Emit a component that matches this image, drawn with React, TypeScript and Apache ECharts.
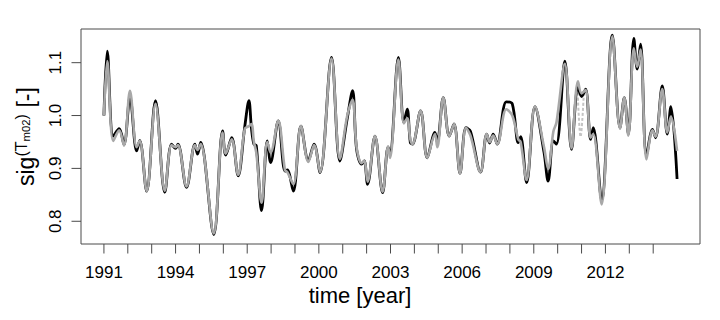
import React, { useEffect, useRef } from 'react';
import * as echarts from 'echarts';

// time axis (decimal years) shared by both curves
const years = [
  1991.00, 1991.14, 1991.39, 1991.64, 1991.84, 1992.09, 1992.37, 1992.50, 1992.79, 1993.16,
  1993.55, 1993.83, 1994.00, 1994.10, 1994.46, 1994.81, 1994.92, 1995.05, 1995.60, 1995.97,
  1996.10, 1996.35, 1996.62, 1996.90, 1997.07, 1997.18, 1997.28, 1997.38, 1997.60, 1997.84,
  1997.98, 1998.30, 1998.58, 1998.68, 1998.93, 1999.25, 1999.56, 1999.80, 2000.05, 2000.53,
  2000.88, 2001.19, 2001.41, 2001.58, 2001.79, 2001.90, 2002.04, 2002.35, 2002.67, 2002.90,
  2002.98, 2003.33, 2003.56, 2003.70, 2003.83, 2003.92, 2004.26, 2004.54, 2004.86, 2004.96,
  2005.21, 2005.46, 2005.66, 2005.91, 2006.16, 2006.35, 2006.77, 2007.03, 2007.15, 2007.30,
  2007.47, 2007.85, 2008.10, 2008.35, 2008.45, 2008.70, 2009.05, 2009.43, 2009.60, 2009.82,
  2009.95, 2010.30, 2010.58, 2010.85, 2011.00, 2011.17, 2011.38, 2011.49, 2011.84, 2012.29,
  2012.61, 2012.79, 2012.96, 2013.19, 2013.33, 2013.47, 2013.72, 2013.97, 2014.10, 2014.38,
  2014.59, 2014.74, 2015.00,
];

// black curve
const blackValues = [
  1.000, 1.122, 0.961, 0.975, 0.945, 1.035, 0.933, 0.953, 0.857, 1.028,
  0.855, 0.946, 0.938, 0.946, 0.864, 0.946, 0.927, 0.949, 0.775, 0.971,
  0.925, 0.958, 0.886, 0.980, 1.028, 0.975, 0.946, 0.943, 0.820, 0.952,
  0.911, 0.990, 0.895, 0.897, 0.857, 0.980, 0.915, 0.946, 0.892, 1.110,
  0.914, 0.995, 1.047, 0.936, 0.908, 0.914, 0.870, 0.961, 0.854, 0.940,
  0.930, 1.110, 0.987, 1.012, 0.949, 0.946, 1.009, 0.920, 0.968, 0.950,
  1.034, 0.961, 0.984, 0.891, 0.977, 0.970, 0.893, 0.965, 0.948, 0.965,
  0.946, 1.026, 1.022, 0.949, 0.960, 0.873, 1.017, 0.930, 0.876, 0.952,
  0.946, 1.103, 0.936, 1.053, 1.036, 1.050, 0.955, 0.977, 0.840, 1.152,
  0.977, 1.034, 0.965, 1.146, 1.088, 1.135, 0.924, 0.974, 0.958, 1.056,
  0.965, 1.017, 0.880,
];

// grey curve
const greyValues = [
  1.000, 1.103, 0.952, 0.972, 0.943, 1.047, 0.940, 0.952, 0.857, 1.022,
  0.858, 0.944, 0.940, 0.944, 0.866, 0.944, 0.935, 0.946, 0.777, 0.968,
  0.928, 0.955, 0.888, 0.975, 0.980, 0.984, 0.950, 0.930, 0.835, 0.950,
  0.930, 0.990, 0.897, 0.893, 0.870, 0.980, 0.912, 0.944, 0.893, 1.108,
  0.918, 1.000, 1.030, 0.940, 0.910, 0.914, 0.875, 0.961, 0.856, 0.942,
  0.920, 1.106, 0.985, 0.995, 0.955, 0.946, 1.009, 0.920, 0.965, 0.940,
  1.034, 0.961, 0.984, 0.891, 0.977, 0.962, 0.893, 0.965, 0.950, 0.962,
  0.946, 1.012, 1.000, 0.955, 0.950, 0.878, 1.017, 0.940, 0.899, 0.970,
  0.987, 1.098, 0.938, 1.065, 1.042, 1.048, 0.958, 0.965, 0.832, 1.150,
  0.975, 1.034, 0.962, 1.127, 1.092, 1.125, 0.917, 0.972, 0.960, 1.050,
  0.968, 0.998, 0.933,
];

// light dashed curve (visible only around the 2011 dip)
const dashYears = [2010.82, 2010.96, 2011.10];
const dashValues = [1.062, 0.960, 1.045];

const xTickYears = [
  1991, 1992, 1993, 1994, 1995, 1996, 1997, 1998, 1999, 2000, 2001, 2002,
  2003, 2004, 2005, 2006, 2007, 2008, 2009, 2010, 2011, 2012, 2013, 2014,
];
const xLabelYears = [1991, 1994, 1997, 2000, 2003, 2006, 2009, 2012];
const yTickValues = [0.8, 0.9, 1.0, 1.1];

const X_MIN = 1990.04;
const X_MAX = 2015.96;
const Y_MIN = 0.757;
const Y_MAX = 1.1637;

const FONT = '"Liberation Sans", Arial, Helvetica, sans-serif';
const AXIS_COLOR = '#4a4a4a';

export default function App() {
  const ref = useRef<HTMLDivElement>(null);

  useEffect(() => {
    if (!ref.current) return;
    const chart = echarts.init(ref.current, null, { renderer: 'svg' });

    const option: any = {
      animation: false,
      backgroundColor: '#ffffff',
      grid: {
        left: 81,
        right: 20,
        top: 29,
        bottom: 76,
        show: true,
        borderColor: AXIS_COLOR,
        borderWidth: 1,
        backgroundColor: 'transparent',
      },
      xAxis: {
        type: 'value',
        min: X_MIN,
        max: X_MAX,
        axisLine: { show: false },
        axisTick: { show: false },
        axisLabel: { show: false },
        splitLine: { show: false },
      },
      yAxis: {
        type: 'value',
        min: Y_MIN,
        max: Y_MAX,
        axisLine: { show: false },
        axisTick: { show: false },
        axisLabel: { show: false },
        splitLine: { show: false },
      },
      series: [
        {
          type: 'line',
          data: dashYears.map((y, i) => [y, dashValues[i]]),
          symbol: 'none',
          smooth: 0.35,
          lineStyle: { color: '#c4c4c4', width: 2, type: [3, 2] },
          silent: true,
          z: 2,
        },
        {
          type: 'line',
          data: years.map((y, i) => [y, blackValues[i]]),
          symbol: 'none',
          smooth: 0.35,
          lineStyle: { color: '#000000', width: 2.8 },
          silent: true,
          z: 3,
        },
        {
          type: 'line',
          data: years.map((y, i) => [y, greyValues[i]]),
          symbol: 'none',
          smooth: 0.35,
          lineStyle: { color: '#a8a8a8', width: 2.6 },
          silent: true,
          z: 4,
        },
        {
          type: 'custom',
          silent: true,
          clip: false,
          data: xTickYears.map((y) => [y, Y_MIN]),
          renderItem: (params: any, api: any) => {
            const p = api.coord([api.value(0), Y_MIN]);
            return {
              type: 'line',
              shape: { x1: p[0], y1: p[1], x2: p[0], y2: p[1] + 9.5 },
              style: { stroke: AXIS_COLOR, lineWidth: 1 },
            };
          },
        },
        {
          type: 'custom',
          silent: true,
          clip: false,
          data: xLabelYears.map((y) => [y, Y_MIN]),
          renderItem: (params: any, api: any) => {
            const p = api.coord([api.value(0), Y_MIN]);
            return {
              type: 'text',
              x: p[0],
              y: p[1] + 28.5,
              style: {
                text: String(api.value(0)),
                fill: '#000',
                fontSize: 17,
                fontFamily: FONT,
                align: 'center',
                verticalAlign: 'middle',
              },
            };
          },
        },
        {
          type: 'custom',
          silent: true,
          clip: false,
          data: yTickValues.map((v) => [X_MIN, v]),
          renderItem: (params: any, api: any) => {
            const v = api.value(1);
            const p = api.coord([X_MIN, v]);
            return {
              type: 'group',
              children: [
                {
                  type: 'line',
                  shape: { x1: p[0] - 9.5, y1: p[1], x2: p[0], y2: p[1] },
                  style: { stroke: AXIS_COLOR, lineWidth: 1 },
                },
                {
                  type: 'text',
                  x: p[0] - 26,
                  y: p[1],
                  rotation: Math.PI / 2,
                  style: {
                    text: v.toFixed(1),
                    fill: '#000',
                    fontSize: 17,
                    fontFamily: FONT,
                    align: 'center',
                    verticalAlign: 'middle',
                  },
                },
              ],
            };
          },
        },
      ],
      graphic: [
        {
          type: 'text',
          left: 'center',
          x: 390.5,
          y: 295.5,
          style: {
            text: 'time [year]',
            fill: '#000',
            fontSize: 22,
            fontFamily: FONT,
            align: 'center',
            verticalAlign: 'middle',
          },
        },
        {
          type: 'text', x: 25.6, y: 186, rotation: Math.PI / 2,
          style: { text: 'sig', fill: '#000', fontSize: 23, fontFamily: FONT, align: 'left', verticalAlign: 'middle' },
        },
        {
          type: 'text', x: 21.3, y: 156.6, rotation: Math.PI / 2,
          style: { text: '(T', fill: '#000', fontSize: 16, fontFamily: FONT, align: 'left', verticalAlign: 'middle' },
        },
        {
          type: 'text', x: 25.6, y: 141.5, rotation: Math.PI / 2,
          style: { text: 'm02', fill: '#000', fontSize: 11.3, fontFamily: FONT, align: 'left', verticalAlign: 'middle' },
        },
        {
          type: 'text', x: 21.3, y: 119.4, rotation: Math.PI / 2,
          style: { text: ')', fill: '#000', fontSize: 16, fontFamily: FONT, align: 'left', verticalAlign: 'middle' },
        },
        {
          type: 'text', x: 25.6, y: 114, rotation: Math.PI / 2,
          style: { text: ' [-]', fill: '#000', fontSize: 23, fontFamily: FONT, align: 'left', verticalAlign: 'middle' },
        },
      ],
    };

    chart.setOption(option);
    return () => chart.dispose();
  }, []);

  return (
    <div
      ref={ref}
      style={{ position: 'fixed', left: 0, top: 0, width: 720, height: 320, background: '#fff' }}
    />
  );
}
